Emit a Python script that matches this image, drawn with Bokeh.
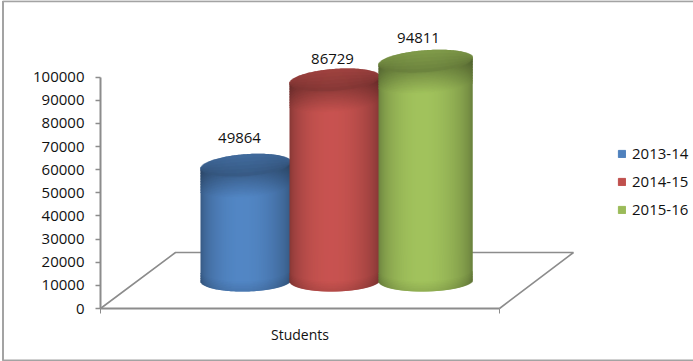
from bokeh.embed import file_html
from bokeh.resources import INLINE
from bokeh.plotting import figure
from bokeh.models import (Range1d, FixedTicker, Legend, LegendItem, ColumnDataSource, NumeralTickFormatter)
from bokeh.core.properties import value
import math

# ---- data ----
categories = ["Students"]
series_names = ["2013-14", "2014-15", "2015-16"]
series_values = [49864, 86729, 94811]
series_colors = ["#4f81bd", "#c0504d", "#9bbb59"]
y_ticks = list(range(0, 100001, 10000))

# ---- layout (picture px) ----
FONT = "Open Sans"
TXT = "#111111"
GRID = "#8c8c8c"
Y0_PX, Y100K_PX = 308.0, 76.7
K = 100000.0 / (Y0_PX - Y100K_PX)     # value units per pixel
px = lambda page_y: (Y0_PX - page_y) * K

W, H = 693, 361
p = figure(width=W, height=H, output_backend="svg", toolbar_location=None,
           x_range=Range1d(0, W), y_range=Range1d(px(H), px(0)),
           min_border=0, min_border_left=0, min_border_right=0,
           min_border_top=0, min_border_bottom=0, x_axis_type="linear")
p.outline_line_color = None
p.grid.visible = False
p.background_fill_color = "#ffffff"
p.border_fill_color = "#ffffff"

# chart border: top, left and bottom edges
p.line([W, 2.5, 2.5, W], [px(0.8), px(0.8), px(360), px(360)], line_color="#a3a3a3", line_width=2)

# floor
FLOOR_L, FLOOR_R, FLOOR_DX, FLOOR_R_DX, FLOOR_DEPTH = 100, 499, 75, 74, 56
p.line([FLOOR_L, FLOOR_L + FLOOR_DX, FLOOR_R + FLOOR_R_DX, FLOOR_R],
       [0, FLOOR_DEPTH * K, FLOOR_DEPTH * K, 0], line_color=GRID, line_width=1.6)

# axes
ya = p.yaxis[0]
ya.fixed_location = FLOOR_L
ya.bounds = (0, 100000)
ya.ticker = FixedTicker(ticks=y_ticks)
ya.formatter = NumeralTickFormatter(format="0")
ya.minor_tick_line_color = None
ya.major_tick_in = 0
ya.major_tick_out = 5
ya.major_tick_line_color = GRID
ya.major_tick_line_width = 1.5
ya.axis_line_color = GRID
ya.axis_line_width = 2
ya.major_label_standoff = 11
ya.major_label_text_font = FONT
ya.major_label_text_font_size = "15px"
ya.major_label_text_color = TXT
ya.major_label_orientation = "horizontal"

xa = p.xaxis[0]
xa.fixed_location = 0
xa.bounds = (FLOOR_L, FLOOR_R)
xa.ticker = FixedTicker(ticks=[FLOOR_L, FLOOR_R])
xa.major_label_overrides = {FLOOR_L: "", FLOOR_R: ""}
xa.minor_tick_line_color = None
xa.major_tick_in = 0
xa.major_tick_out = 5
xa.major_tick_line_color = GRID
xa.axis_line_color = GRID
xa.axis_line_width = 2

# cylinders
BAR_WIDTHS = [90, 90, 94]
LEFT0 = 200
BASE_PX = 28          # floor depth to the cylinder axis
B = 11.0              # ellipse half height, px
TOP_TILT, BOT_TILT = -0.07, -0.02
LABEL_DX = [-6, -2, -7]
LABEL_DY = [27, 21, 23]


def shade(c, f):
    r, g, b = int(c[1:3], 16), int(c[3:5], 16), int(c[5:7], 16)
    g2 = lambda v: max(0, min(255, int(round(v * f))))
    return "#%02x%02x%02x" % (g2(r), g2(g), g2(b))


def cells(color, left, width, val):
    """Columns of one shaded cylinder, in data units, painted top to bottom and
    left to right; each cell overlaps the next so that no seams show."""
    L, R, Bt, T, C = [], [], [], [], []
    a = width / 2.0
    cx = left + a
    base = BASE_PX * K
    top = base + val
    for i in range(width):
        x0 = left + i
        x1 = x0 + (1 if i == width - 1 else 2)
        xm = x0 + 0.5 - cx
        u = (i + 0.5) / width
        arc = B * math.sqrt(max(0.0, 1 - (xm / a) ** 2)) * K
        top_c = top - TOP_TILT * xm * K
        bot_c = base - BOT_TILT * xm * K
        up, lo = top_c + arc, top_c - arc
        low = bot_c - arc
        h = 0.66 + 0.38 * math.sin(math.pi * u ** 0.9) ** 0.6

        def add(a0, a1, f, last=False):
            L.append(x0); R.append(x1); T.append(a1); C.append(shade(color, f))
            Bt.append(a0 if last else a0 - K)
        # cap
        n = 6
        for j in range(n):
            v = j / (n - 1)
            a1 = up - (up - lo) * j / n
            a0 = up - (up - lo) * (j + 1) / n
            add(a0, a1, (0.74 + 0.08 * math.sin(math.pi * u)) * (1.0 - 0.14 * v))
        # shaded band under the cap
        band = 22 * K
        m = 14
        for j in range(m):
            a1 = lo - band * j / m
            a0 = lo - band * (j + 1) / m
            add(a0, a1, h * (0.74 + 0.26 * (j + 1) / m))
        # main body
        bot_band = 10 * K
        add(low + bot_band, lo - band, h)
        # bottom band
        nb = 6
        for j in range(nb):
            a1 = low + bot_band * (nb - j) / nb
            a0 = low + bot_band * (nb - 1 - j) / nb
            add(a0, a1, h * (1.0 - 0.10 * (j + 1) / nb), last=(j == nb - 1))
    return dict(left=L, right=R, bottom=Bt, top=T, color=C)


left = LEFT0
lefts = []
for name, col, width, val in zip(series_names, series_colors, BAR_WIDTHS, series_values):
    lefts.append(left)
    p.quad(left="left", right="right", bottom="bottom", top="top",
           fill_color="color", fill_alpha=1.0, line_color=None,
           source=ColumnDataSource(cells(col, left, width, val)))
    left += width - 1

# data labels
label_x = [l + w / 2 + d for l, w, d in zip(lefts, BAR_WIDTHS, LABEL_DX)]
label_y = [v + (BASE_PX + d) * K for v, d in zip(series_values, LABEL_DY)]
p.text(label_x, label_y, text=[str(v) for v in series_values], text_font=value(FONT),
       text_font_size="15px", text_color=TXT, text_align="center", text_baseline="middle")

# category label
p.text([(FLOOR_L + FLOOR_R) / 2], [px(333.5)], text=categories, text_font=value(FONT),
       text_font_size="14px", text_color=TXT, text_align="center", text_baseline="middle")

# legend
items = []
for name, col in zip(series_names, series_colors):
    r = p.quad(left=[float("nan")], right=[float("nan")], bottom=[float("nan")], top=[float("nan")],
               fill_color=col, fill_alpha=1.0, line_color=col)
    items.append(LegendItem(label=name, renderers=[r]))
leg = Legend(items=items, location=(617, 142), orientation="vertical",
             glyph_width=9, glyph_height=9, label_standoff=6, spacing=8,
             padding=0, margin=0, border_line_color=None, background_fill_alpha=0,
             label_text_font=FONT, label_text_font_size="15px", label_text_color=TXT,
             label_height=20)
p.add_layout(leg)

open("out.html", "w").write(file_html(p, INLINE))
